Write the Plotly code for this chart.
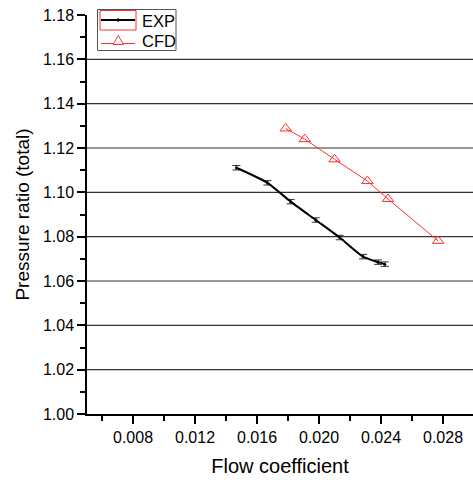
import plotly.graph_objects as go

# Data
exp_x = [0.01467, 0.01667, 0.01817, 0.01979, 0.02133, 0.02284, 0.02381, 0.02424]
exp_y = [1.1111, 1.1043, 1.0958, 1.0875, 1.0796, 1.0710, 1.0685, 1.0676]
exp_err = [0.0010, 0.0010, 0.0010, 0.0010, 0.0010, 0.0010, 0.0010, 0.0010]

cfd_x = [0.01785, 0.01908, 0.02100, 0.02312, 0.02445, 0.02768]
cfd_y = [1.1288, 1.1240, 1.1149, 1.1051, 1.0970, 1.0781]

xtick_vals = [0.008, 0.012, 0.016, 0.020, 0.024, 0.028]
xtick_text = ["0.008", "0.012", "0.016", "0.020", "0.024", "0.028"]
ytick_vals = [1.00, 1.02, 1.04, 1.06, 1.08, 1.10, 1.12, 1.14, 1.16, 1.18]
ytick_text = ["1.00", "1.02", "1.04", "1.06", "1.08", "1.10", "1.12", "1.14", "1.16", "1.18"]
grid_vals = [1.02, 1.04, 1.06, 1.08, 1.10, 1.12, 1.14, 1.16]
series_names = ["EXP", "CFD"]

FONT = "Arial, Liberation Sans, sans-serif"
RED = "#ff3030"

fig = go.Figure()
fig.add_trace(go.Scatter(
    x=exp_x, y=exp_y, name=series_names[0], mode="lines+markers",
    line=dict(color="black", width=2, shape="spline", smoothing=0.6),
    marker=dict(color="black", size=3, symbol="circle"),
    error_y=dict(type="data", array=exp_err, visible=True, color="#333333", thickness=1, width=4),
))
fig.add_trace(go.Scatter(
    x=cfd_x, y=cfd_y, name=series_names[1], mode="lines+markers",
    line=dict(color=RED, width=1),
    marker=dict(symbol="triangle-up-open", size=10, color=RED, line=dict(width=1, color=RED)),
))

for g in grid_vals:
    fig.add_shape(type="line", xref="paper", x0=0, x1=1, yref="y", y0=g, y1=g,
                  line=dict(color="#333333", width=1.2), layer="below")

# pixel -> paper helpers for the legend box
W, H, L, T, B = 473, 480, 87, 15, 66
ph = H - T - B
pw = W - L
def px(x): return (x - L) / pw
def py(y): return (H - B - y) / ph

# manual legend (Origin-style)
fig.add_shape(type="rect", xref="paper", yref="paper",
              x0=px(97.5), x1=px(176), y0=py(9.5), y1=py(50.5),
              line=dict(color="#555555", width=1), fillcolor="white")
fig.add_shape(type="rect", xref="paper", yref="paper",
              x0=px(100), x1=px(136), y0=py(10.5), y1=py(30),
              line=dict(color=RED, width=1))
fig.add_shape(type="line", xref="paper", yref="paper",
              x0=px(101), x1=px(135), y0=py(20), y1=py(20),
              line=dict(color="black", width=2))
fig.add_shape(type="circle", xref="paper", yref="paper",
              x0=px(117), x1=px(119.5), y0=py(18.8), y1=py(21.3),
              line=dict(color="black", width=1), fillcolor="black")
fig.add_shape(type="line", xref="paper", yref="paper",
              x0=px(101), x1=px(135), y0=py(43.5), y1=py(43.5),
              line=dict(color=RED, width=1))
fig.add_shape(type="path", xref="paper", yref="paper",
              path=f"M {px(113)} {py(44.5)} L {px(123.5)} {py(44.5)} L {px(118.25)} {py(35.5)} Z",
              line=dict(color=RED, width=1), fillcolor="white")
fig.add_annotation(xref="paper", yref="paper", x=px(140), y=py(20.5), text=series_names[0],
                   showarrow=False, xanchor="left", yanchor="middle",
                   font=dict(size=16.5, family=FONT, color="black"))
fig.add_annotation(xref="paper", yref="paper", x=px(140), y=py(41.5), text=series_names[1],
                   showarrow=False, xanchor="left", yanchor="middle",
                   font=dict(size=16.5, family=FONT, color="black"))

fig.update_layout(
    width=W, height=H,
    margin=dict(l=L, r=0, t=T, b=B),
    plot_bgcolor="white", paper_bgcolor="white",
    font=dict(family=FONT, size=16, color="black"),
    showlegend=False,
)
fig.update_xaxes(
    range=[0.00503, 0.00503 + (W - L) / 15500],
    tickvals=xtick_vals, ticktext=xtick_text,
    ticks="outside", ticklen=8, tickwidth=1.5, tickcolor="black",
    minor=dict(dtick=0.002, tick0=0.006, ticks="outside", ticklen=5, tickwidth=1.5, tickcolor="black", showgrid=False),
    showline=True, linecolor="black", linewidth=1.5,
    showgrid=False, zeroline=False,
    title=dict(text="Flow coefficient", font=dict(size=20, family=FONT), standoff=14),
    tickfont=dict(size=16, family=FONT),
)
fig.update_yaxes(
    range=[1.0, 1.18],
    tickvals=ytick_vals, ticktext=ytick_text,
    ticks="outside", ticklen=8, tickwidth=1.5, tickcolor="black",
    minor=dict(dtick=0.01, tick0=1.0, ticks="outside", ticklen=5, tickwidth=1.5, tickcolor="black", showgrid=False),
    showline=True, linecolor="black", linewidth=1.5,
    showgrid=False, zeroline=False,
    title=dict(text="Pressure ratio (total)", font=dict(size=19, family=FONT), standoff=8),
    tickfont=dict(size=16, family=FONT),
)

fig.write_html("out.html")
